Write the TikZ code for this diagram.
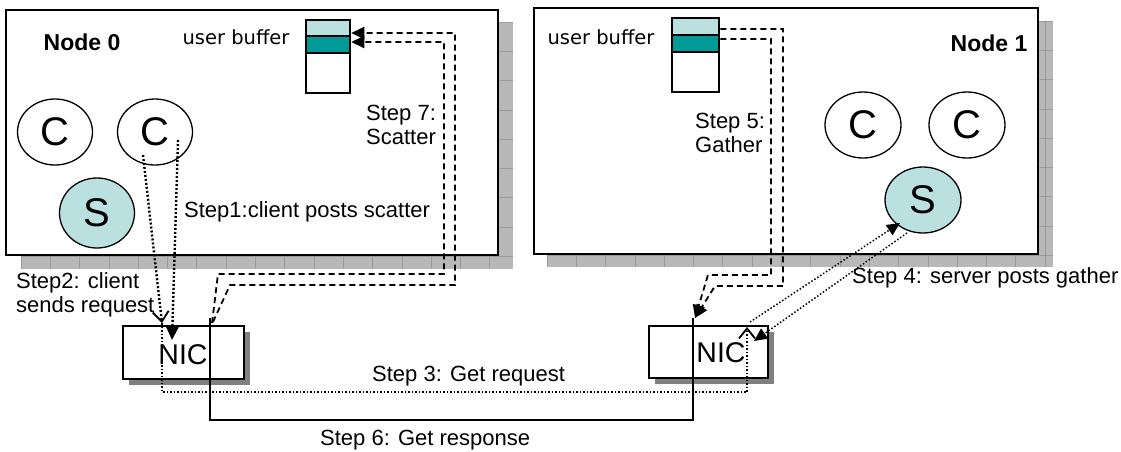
\documentclass[tikz,border=0pt]{standalone}
\usepackage{fontspec}
\setmainfont{Liberation Sans}
\newfontfamily\buffont{DejaVu Sans}
\usetikzlibrary{arrows.meta,shapes.geometric}
\definecolor{lightc}{HTML}{BBE0E0}
\definecolor{tealc}{HTML}{009A98}
\definecolor{shadowc}{HTML}{B8B8B8}
\definecolor{gridc}{HTML}{9A9A9A}
\definecolor{nicshadow}{HTML}{808080}
\tikzset{
  bigbox/.style={draw, line width=2pt, fill=white, inner sep=0, anchor=north west},
  proc/.style={ellipse, draw, line width=1.3pt, inner sep=0, minimum width=75pt, minimum height=66pt, font=\fontsize{40}{40}\selectfont},
  nicbox/.style={draw, line width=2pt, fill=white, inner sep=0},
  nictext/.style={inner sep=0, font=\fontsize{28.5}{28.5}\selectfont},
  bufcell/.style={draw, line width=2.5pt, inner sep=0, minimum width=44pt},
  steplab/.style={inner sep=0, align=left, anchor=west, font=\fontsize{22}{24}\selectfont},
  nodelab/.style={inner sep=0, font=\fontsize{23}{23}\selectfont\bfseries},
  buflab/.style={inner sep=0, font=\fontsize{19.5}{19.5}\buffont},
  dotthick/.style={line width=2.4pt, dash pattern=on 2pt off 2pt},
  dotthin/.style={line width=1.5pt, dash pattern=on 1.5pt off 2pt},
  dashline/.style={line width=1.8pt, dash pattern=on 6pt off 4pt},
  filltip/.style={-{Triangle[length=13pt,width=12pt]}},
  opentip/.style={-{Straight Barb[length=10pt,width=16pt,line width=1.8pt]}},
}
\begin{document}
\begin{tikzpicture}[x=1pt,y=-1pt]
\useasboundingbox (0,0) rectangle (1121,451);
% ---- textured shadows of the two nodes
\begin{scope}
  \clip (21,22) rectangle (513,269);
  \fill[shadowc] (21,22) rectangle (513,269);
  \foreach \i in {0,...,17} \draw[gridc, line width=0.8pt] ({21+29.3*\i},22) -- ({21+29.3*\i},269);
  \foreach \i in {0,...,9} \draw[gridc, line width=0.8pt] (21,{22+29.3*\i}) -- (513,{22+29.3*\i});
\end{scope}
\begin{scope}
  \clip (547,21) rectangle (1053,267);
  \fill[shadowc] (547,21) rectangle (1053,267);
  \foreach \i in {0,...,18} \draw[gridc, line width=0.8pt] ({547+29.3*\i},21) -- ({547+29.3*\i},267);
  \foreach \i in {0,...,9} \draw[gridc, line width=0.8pt] (547,{21+29.3*\i}) -- (1053,{21+29.3*\i});
\end{scope}
% ---- node boxes
\node[bigbox, minimum width=492pt, minimum height=245pt] (node0) at (5,9) {};
\node[bigbox, minimum width=504pt, minimum height=246pt] (node1) at (533,7) {};
\node[nodelab] (lab0) at (82,42) {Node 0};
\node[nodelab] (lab1) at (989,43) {Node 1};
\node[buflab] (ub0) at (236,37) {user buffer};
\node[buflab] (ub1) at (601,37) {user buffer};
% ---- processes
\node[proc] (c01) at (55,132) {C};
\node[proc] (c02) at (155,132) {C};
\node[proc, fill=lightc, minimum height=70pt] (s0) at (97,213) {S};
\node[proc, minimum width=76pt] (c11) at (863,125) {C};
\node[proc, minimum width=76pt] (c12) at (967,125) {C};
\node[proc, fill=lightc, minimum width=76pt] (s1) at (923,200) {S};
% ---- user buffers
\node[bufcell, fill=white, minimum height=40pt] (b0c) at (328,73) {};
\node[bufcell, fill=lightc, minimum height=16pt] (b0a) at (328,28) {};
\node[bufcell, fill=tealc, minimum height=17pt] (b0b) at (328,44.5) {};
\node[bufcell, fill=white, minimum height=40pt, minimum width=47pt] (b1c) at (695.5,72) {};
\node[bufcell, fill=lightc, minimum height=17pt, minimum width=47pt] (b1a) at (695.5,26.5) {};
\node[bufcell, fill=tealc, minimum height=17pt, minimum width=47pt] (b1b) at (695.5,43.5) {};
% ---- NICs
\fill[nicshadow] (129,332) rectangle (250,385);
\node[nicbox, minimum width=121pt, minimum height=53pt] (nic0) at (183.5,352.5) {};
\node[nictext] (nict0) at (183,355) {NIC};
\fill[nicshadow] (655,332) rectangle (774,384);
\node[nicbox, minimum width=119pt, minimum height=52pt] (nic1) at (708.5,352) {};
\node[nictext] (nict1) at (721,353) {NIC};
% ---- connector end points
\coordinate (s2a) at (143,155);
\coordinate (t2a) at (162,323);
\coordinate (s2b) at (178,140);
\coordinate (t2b) at (172,340);
\coordinate (t3) at (747,327);
\coordinate (s4a) at (750,322);
\coordinate (t4a) at (900,223);
\coordinate (s4b) at (907,233);
\coordinate (t4b) at (754,341);
\coordinate (t5) at (695,318);
\coordinate (s7a) at (212,323);
\coordinate (s7b) at (213,322);
\coordinate (s6) at (210,318);
\coordinate (t6) at (693,318);
% ---- Step 2: client sends request
\draw[dotthick, opentip] (s2a) -- (t2a);
\draw[dotthick, filltip] (s2b) -- (t2b);
% ---- Step 3: get request
\draw[dotthin, opentip] (t2a) -- (162,392) -- (747,392) -- (t3);
% ---- Step 4: server posts gather
\draw[dotthin, filltip] (s4a) -- (t4a);
\draw[dotthin, filltip] (s4b) -- (t4b);
% ---- Step 5: gather
\draw[dashline, filltip] ([yshift=-2.5pt]b1a.east) -- (783,29) -- (783,286) -- (715,286) -- (t5);
\draw[dashline, filltip] ([yshift=4.5pt]b1b.east) -- (771,39) -- (771,275) -- (708,275) -- (t5);
% ---- Step 6: get response
\draw[line width=1.5pt] (s6) -- (210,420) -- (693,420) -- (t6);
% ---- Step 7: scatter
\draw[dashline, filltip] (s7a) -- (218,274) -- (444,274) -- (444,42) -- ([yshift=2.5pt]b0b.east);
\draw[dashline, filltip] (s7b) -- (230,285) -- (455,285) -- (455,33) -- ([yshift=-5pt]b0a.east);
% ---- labels
\node[steplab] (l1) at (184,212) {Step1:client posts scatter};
\node[steplab] (l2) at (16,295) {Step2: client\\sends request};
\node[steplab] (l3) at (372,376) {Step 3: Get request};
\node[steplab] (l4) at (852,278) {Step 4: server posts gather};
\node[steplab] (l5) at (695,133) {Step 5:\\Gather};
\node[steplab] (l6) at (320,440) {Step 6: Get response};
\node[steplab] (l7) at (366,125) {Step 7:\\Scatter};
\end{tikzpicture}
\end{document}
